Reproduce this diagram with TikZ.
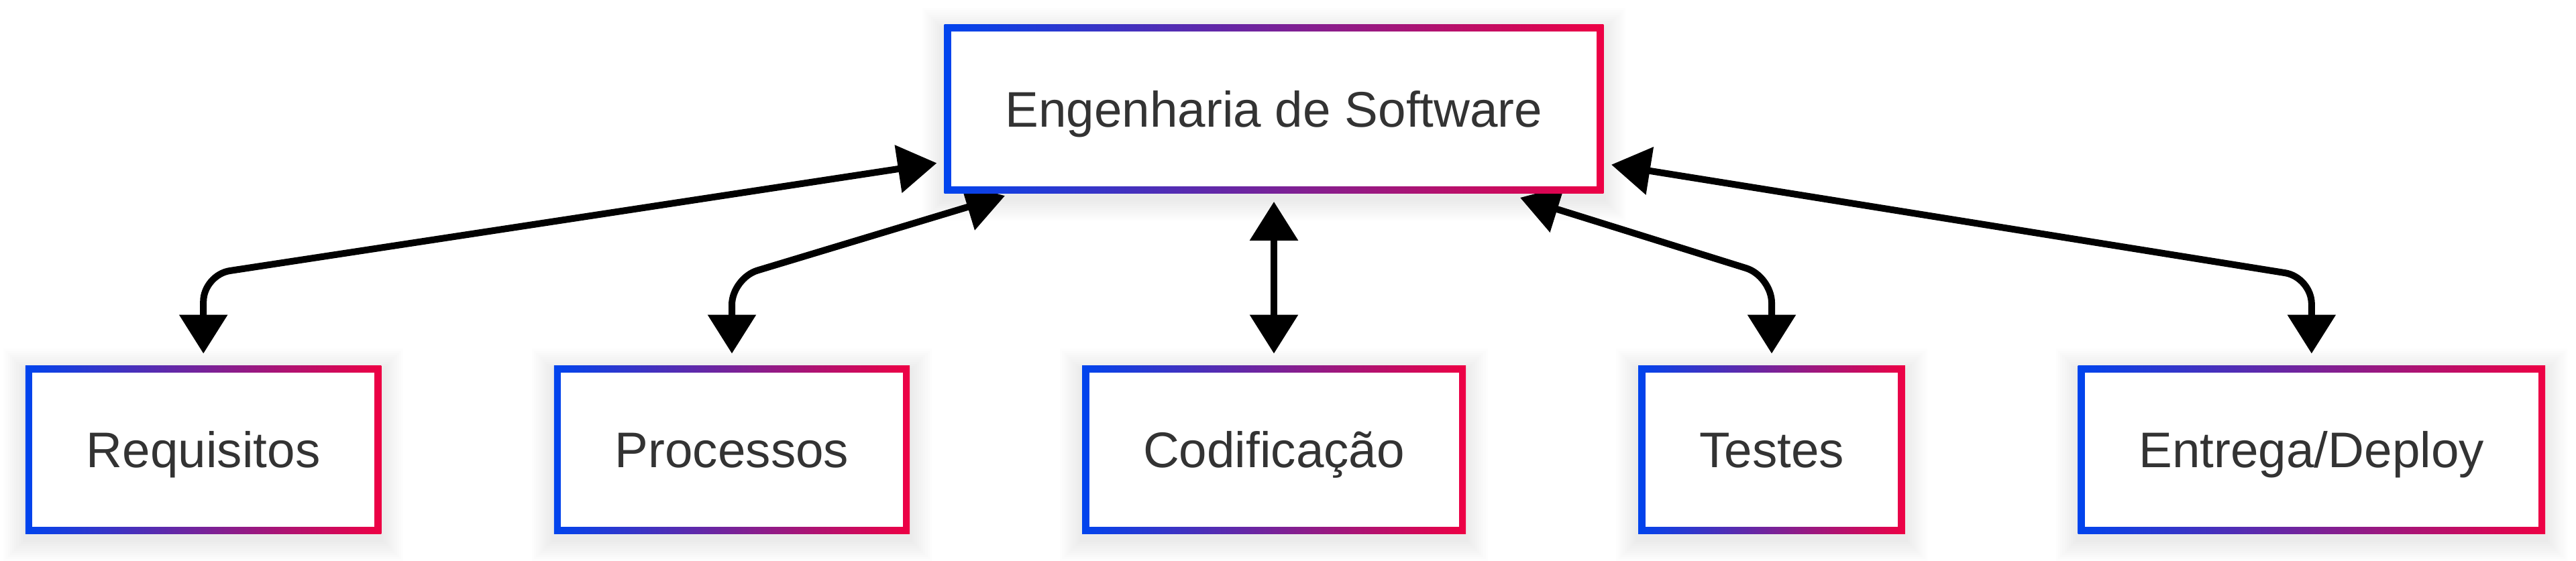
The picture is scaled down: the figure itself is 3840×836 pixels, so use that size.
\documentclass[tikz,border=0pt]{standalone}
\usepackage{fontspec}
\setmainfont{Liberation Sans}
\usetikzlibrary{arrows.meta,backgrounds}
\definecolor{gA}{RGB}{0,68,238}
\definecolor{gB}{RGB}{238,0,68}
\definecolor{txt}{HTML}{333333}
\tikzset{
  box/.style={rectangle, left color=gA, right color=gB,
    inner xsep=22.75pt, inner ysep=0pt, minimum height=62.9pt,
    text height=13.36pt, text depth=0pt,
    text=txt, font=\fontsize{18.66}{22}\selectfont,
    path picture={\fill[white] ([shift={(2.625pt,2.625pt)}]path picture bounding box.south west) rectangle ([shift={(-2.625pt,-2.625pt)}]path picture bounding box.north east);}},
  link/.style={draw=black, line width=2.5pt, rounded corners=10pt,
    {Triangle[length=14.5pt,width=17.5pt]}-{Triangle[length=14.5pt,width=17.5pt]}},
  shadowlayer/.style={fill=black, opacity=0.007}
}
\begin{document}
\begin{tikzpicture}[x=0.25pt,y=-0.25pt]
\useasboundingbox (0,0) rectangle (3840,836);
\node[box] (top)  at (1899,162.7)   {Engenharia de Software};
\node[box] (req)  at (303.2,670.9)  {Requisitos};
\node[box] (proc) at (1091,670.9)   {Processos};
\node[box] (cod)  at (1899,670.9)   {Codificação};
\node[box] (test) at (2641,670.9)   {Testes};
\node[box] (entr) at (3445.8,670.9) {Entrega/Deploy};
\begin{scope}[on background layer]
\fill[white] (0,0) rectangle (3840,836);
\foreach \n in {top,req,proc,cod,test,entr}{
  \foreach \e in {1,...,10}{
    \fill[shadowlayer] ([shift={(-\e*0.8pt,-\e*0.8pt-2pt)}]\n.south west) rectangle ([shift={(\e*0.8pt,\e*0.8pt-2pt)}]\n.north east);
  }
}
\draw[link] ([xshift=-2.6pt,yshift=-20.15pt]top.west) -- (req.north |- 0,410) -- ([yshift=4.2pt]req.north);
\draw[link] ([xshift=-100.25pt,yshift=-0.7pt]top.south) -- (proc.north |- 0,415) -- ([yshift=4.2pt]proc.north);
\draw[link] ([yshift=-2.9pt]top.south) -- ([yshift=4.2pt]cod.north);
\draw[link] ([xshift=91.75pt,yshift=-1.4pt]top.south) -- (test.north |- 0,412) -- ([yshift=4.2pt]test.north);
\draw[link] ([xshift=2.7pt,yshift=-20.75pt]top.east) -- (entr.north |- 0,413.5) -- ([yshift=4.2pt]entr.north);
\end{scope}
\end{tikzpicture}
\end{document}
